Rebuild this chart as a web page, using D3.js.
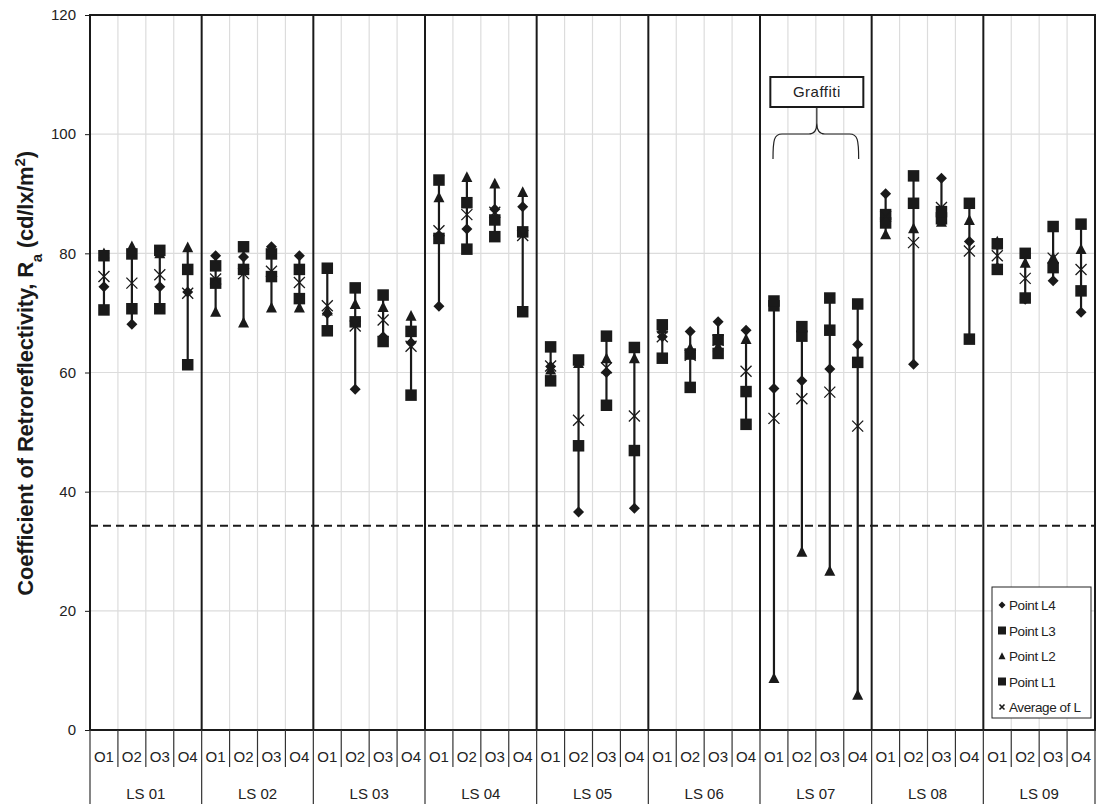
<!DOCTYPE html>
<html>
<head>
<meta charset="utf-8">
<script src="https://cdn.jsdelivr.net/npm/d3@7"></script>
<style>
  html, body { margin: 0; padding: 0; background: #fff; }
  svg { display: block; font-family: "Liberation Sans", Arial, sans-serif; }
</style>
</head>
<body>
<svg id="chart" width="1102" height="804"></svg>
<script>
// Sections and observation positions
const sections = ["LS 01", "LS 02", "LS 03", "LS 04", "LS 05", "LS 06", "LS 07", "LS 08", "LS 09"];
const observations = ["O1", "O2", "O3", "O4"];

// Retroreflectivity readings, listed section by section, O1..O4 in each
const pointL4 = [
  74.4, 68.1, 74.4, 73.5,
  79.6, 79.4, 81.1, 79.6,
  69.9, 57.2, 66.0, 65.0,
  71.1, 84.1, 87.4, 87.8,
  61.0, 36.6, 60.0, 37.2,
  66.0, 66.9, 68.5, 67.1,
  57.3, 58.6, 60.6, 64.7,
  90.0, 61.4, 92.6, 82.0,
  77.6, 72.3, 75.4, 70.1
];
const pointL3 = [
  79.6, 79.9, 80.5, 77.3,
  77.9, 81.1, 79.9, 77.3,
  77.5, 74.2, 73.0, 66.9,
  92.3, 88.5, 85.6, 83.6,
  64.3, 62.1, 66.1, 64.2,
  68.0, 63.1, 65.5, 56.8,
  72.0, 67.7, 72.5, 71.5,
  85.1, 93.0, 87.0, 88.4,
  81.6, 80.0, 84.5, 84.9
];
const pointL2 = [
  80.0, 81.2, 80.0, 81.0,
  70.2, 68.4, 70.9, 70.9,
  70.4, 71.5, 71.0, 69.5,
  89.4, 92.8, 91.7, 90.3,
  60.5, 61.6, 62.4, 62.4,
  67.4, 64.1, 64.4, 65.6,
  8.7, 29.9, 26.7, 5.9,
  83.2, 84.2, 85.3, 85.6,
  82.0, 78.4, 79.3, 80.7
];
const pointL1 = [
  70.5, 70.7, 70.7, 61.3,
  75.0, 77.3, 76.1, 72.4,
  67.0, 68.5, 65.2, 56.2,
  82.5, 80.7, 82.8, 70.2,
  58.6, 47.7, 54.5, 46.9,
  62.4, 57.5, 63.2, 51.3,
  71.2, 66.1, 67.1, 61.7,
  86.5, 88.4, 85.8, 65.6,
  77.3, 72.5, 77.6, 73.7
];
const averageL = [
  76.1, 75.0, 76.4, 73.3,
  75.7, 76.6, 77.0, 75.1,
  71.2, 67.8, 68.8, 64.4,
  83.8, 86.5, 86.9, 83.0,
  61.1, 52.0, 60.8, 52.7,
  66.0, 62.9, 65.4, 60.2,
  52.3, 55.6, 56.7, 51.0,
  86.2, 81.8, 87.7, 80.4,
  79.6, 75.8, 79.2, 77.3
];

const yTicks = [0, 20, 40, 60, 80, 100, 120];
const minimumLevel = 34.3;
const annotationText = "Graffiti";
const annotatedSection = "LS 07";

const legendItems = [
  { label: "Point L4", shape: "diamond" },
  { label: "Point L3", shape: "square" },
  { label: "Point L2", shape: "triangle" },
  { label: "Point L1", shape: "square" },
  { label: "Average of L", shape: "cross" }
];

// ---- layout ----
const plot = { left: 90, right: 1095, top: 15, bottom: 730 };
const ink = "#1a1a1a";
const gridColor = "#dcdcdc";

const svg = d3.select("#chart");

const xSection = d3.scaleBand().domain(sections).range([plot.left, plot.right]).padding(0);
const xObs = d3.scaleBand().domain(observations).range([0, xSection.bandwidth()]).padding(0);
const y = d3.scaleLinear().domain([0, 120]).range([plot.bottom, plot.top]);

// flatten into per-column records
const records = [];
sections.forEach((s, si) => {
  observations.forEach((o, oi) => {
    const k = si * 4 + oi;
    records.push({
      section: s, obs: o,
      cx: xSection(s) + xObs(o) + xObs.bandwidth() / 2,
      L4: pointL4[k], L3: pointL3[k], L2: pointL2[k], L1: pointL1[k], avg: averageL[k]
    });
  });
});

// ---- horizontal gridlines ----
svg.append("g").selectAll("line")
  .data(yTicks.filter(t => t > 0 && t < 120))
  .join("line")
  .attr("x1", plot.left).attr("x2", plot.right)
  .attr("y1", d => y(d)).attr("y2", d => y(d))
  .attr("stroke", gridColor).attr("stroke-width", 1.2);

// ---- vertical gridlines between observations ----
const innerBounds = [];
sections.forEach(s => observations.slice(1).forEach(o => innerBounds.push(xSection(s) + xObs(o))));
svg.append("g").selectAll("line")
  .data(innerBounds)
  .join("line")
  .attr("x1", d => d).attr("x2", d => d)
  .attr("y1", plot.top).attr("y2", plot.bottom)
  .attr("stroke", gridColor).attr("stroke-width", 1.2);

// ---- section dividers ----
svg.append("g").selectAll("line")
  .data(sections.slice(1))
  .join("line")
  .attr("x1", d => xSection(d)).attr("x2", d => xSection(d))
  .attr("y1", plot.top).attr("y2", plot.bottom)
  .attr("stroke", ink).attr("stroke-width", 2);

// ---- minimum level dashed line ----
svg.append("line")
  .attr("x1", plot.left).attr("x2", plot.right)
  .attr("y1", y(minimumLevel)).attr("y2", y(minimumLevel))
  .attr("stroke", ink).attr("stroke-width", 2)
  .attr("stroke-dasharray", "8,5");

// ---- y axis ----
const yAxis = d3.axisLeft(y).tickValues(yTicks).tickSize(5).tickPadding(9);
const yAxisG = svg.append("g").attr("transform", `translate(${plot.left},0)`).call(yAxis);
yAxisG.select(".domain").remove();
yAxisG.selectAll(".tick line").attr("stroke", ink);
yAxisG.selectAll(".tick text")
  .attr("fill", "#222").style("font-size", "15px")
  .style("font-family", "'Liberation Sans', Arial, sans-serif");

// ---- plot frame ----
svg.append("rect")
  .attr("x", plot.left).attr("y", plot.top)
  .attr("width", plot.right - plot.left).attr("height", plot.bottom - plot.top)
  .attr("fill", "none").attr("stroke", ink).attr("stroke-width", 2);

// ---- category axis (two levels) ----
const catG = svg.append("g");
// observation separators
const obsSeps = [];
sections.forEach(s => observations.slice(1).forEach(o => obsSeps.push(xSection(s) + xObs(o))));
catG.selectAll("line.obs")
  .data(obsSeps)
  .join("line").attr("class", "obs")
  .attr("x1", d => d).attr("x2", d => d)
  .attr("y1", plot.bottom).attr("y2", plot.bottom + 37)
  .attr("stroke", "#333").attr("stroke-width", 1.2);
// section separators
catG.selectAll("line.sec")
  .data(sections.map(s => xSection(s)).concat([plot.right]))
  .join("line").attr("class", "sec")
  .attr("x1", d => d).attr("x2", d => d)
  .attr("y1", plot.bottom).attr("y2", 804)
  .attr("stroke", "#333").attr("stroke-width", 1.2);
catG.selectAll("text.obs")
  .data(records)
  .join("text").attr("class", "obs")
  .attr("x", d => d.cx).attr("y", plot.bottom + 32)
  .attr("text-anchor", "middle")
  .attr("fill", "#222").style("font-size", "15px")
  .text(d => d.obs);
catG.selectAll("text.sec")
  .data(sections)
  .join("text").attr("class", "sec")
  .attr("x", d => xSection(d) + xSection.bandwidth() / 2).attr("y", plot.bottom + 69)
  .attr("text-anchor", "middle")
  .attr("fill", "#222").style("font-size", "15px")
  .text(d => d);

// ---- y title ----
const title = svg.append("text")
  .attr("transform", `translate(33,${(plot.top + plot.bottom) / 2 + 1}) rotate(-90)`)
  .attr("text-anchor", "middle")
  .attr("fill", ink)
  .style("font-size", "22px").style("font-weight", "bold").style("letter-spacing", "-0.2px");
title.append("tspan").text("Coefficient of Retroreflectivity, R");
title.append("tspan").attr("baseline-shift", "sub").style("font-size", "15px").text("a");
title.append("tspan").text(" (cd/lx/m");
title.append("tspan").attr("baseline-shift", "super").style("font-size", "15px").text("2");
title.append("tspan").text(")");

// ---- symbols ----
function shapePath(shape, s) {
  const h = s / 2;
  if (shape === "diamond") return `M0,${-h}L${h},0L0,${h}L${-h},0Z`;
  if (shape === "square") return `M${-h},${-h}H${h}V${h}H${-h}Z`;
  if (shape === "triangle") return `M0,${-h * 1.05}L${h},${h * 0.9}L${-h},${h * 0.9}Z`;
  return `M${-h},${-h}L${h},${h}M${h},${-h}L${-h},${h}`;
}

// range bars from lowest to highest reading
svg.append("g").selectAll("line")
  .data(records)
  .join("line")
  .attr("x1", d => d.cx).attr("x2", d => d.cx)
  .attr("y1", d => y(Math.min(d.L4, d.L3, d.L2, d.L1, d.avg)))
  .attr("y2", d => y(Math.max(d.L4, d.L3, d.L2, d.L1, d.avg)))
  .attr("stroke", ink).attr("stroke-width", 2.2);

const seriesDraw = [
  { key: "L2", shape: "triangle", size: 11 },
  { key: "L4", shape: "diamond", size: 11 },
  { key: "L1", shape: "square", size: 11.5 },
  { key: "L3", shape: "square", size: 11.5 }
];
seriesDraw.forEach(sd => {
  svg.append("g").selectAll("path")
    .data(records)
    .join("path")
    .attr("transform", d => `translate(${d.cx},${y(d[sd.key])})`)
    .attr("d", shapePath(sd.shape, sd.size))
    .attr("fill", ink);
});
svg.append("g").selectAll("path")
  .data(records)
  .join("path")
  .attr("transform", d => `translate(${d.cx},${y(d.avg)})`)
  .attr("d", shapePath("cross", 11))
  .attr("fill", "none").attr("stroke", ink).attr("stroke-width", 1.3);

// ---- annotation ----
const secX0 = xSection(annotatedSection);
const cxA = secX0 + xSection.bandwidth() / 2 + 1;
const boxW = 93, boxH = 30, boxTop = 77;
const ann = svg.append("g");
ann.append("rect")
  .attr("x", cxA - boxW / 2).attr("y", boxTop)
  .attr("width", boxW).attr("height", boxH)
  .attr("fill", "#fff").attr("stroke", ink).attr("stroke-width", 2);
ann.append("text")
  .attr("x", cxA).attr("y", boxTop + boxH / 2 + 5)
  .attr("text-anchor", "middle").attr("fill", "#222")
  .style("font-size", "15px").style("letter-spacing", "0.5px")
  .text(annotationText);
const bl = secX0 + 13, br = secX0 + xSection.bandwidth() - 13;
const by = 134, stemBottom = 123, armEnd = 159;
ann.append("path")
  .attr("d",
    `M${bl},${armEnd} C${bl},${by + 6} ${bl + 1},${by} ${bl + 9},${by} ` +
    `L${cxA - 8},${by} C${cxA - 2},${by} ${cxA},${by - 4} ${cxA},${stemBottom} ` +
    `L${cxA},${boxTop + boxH} M${cxA},${stemBottom} ` +
    `C${cxA},${by - 4} ${cxA + 2},${by} ${cxA + 8},${by} ` +
    `L${br - 9},${by} C${br - 1},${by} ${br},${by + 6} ${br},${armEnd}`)
  .attr("fill", "none").attr("stroke", "#222").attr("stroke-width", 1.2);

// ---- legend ----
const lg = svg.append("g");
const lgX = 992, lgY = 587, lgW = 99, lgH = 131;
lg.append("rect")
  .attr("x", lgX).attr("y", lgY).attr("width", lgW).attr("height", lgH)
  .attr("fill", "#fff").attr("stroke", "#222").attr("stroke-width", 1);
const legendSizes = { diamond: 7, square: 8, triangle: 7, cross: 5 };
legendItems.forEach((it, i) => {
  const yy = lgY + 18 + i * 25.5;
  const mark = lg.append("path")
    .attr("transform", `translate(${lgX + 10},${yy})`)
    .attr("d", shapePath(it.shape, legendSizes[it.shape]));
  if (it.shape === "cross") mark.attr("fill", "none").attr("stroke", ink).attr("stroke-width", 1.6);
  else mark.attr("fill", ink);
  lg.append("text")
    .attr("x", lgX + 17).attr("y", yy + 5)
    .attr("fill", "#222").style("font-size", "13.5px").style("letter-spacing", "-0.4px")
    .text(it.label);
});
</script>
</body>
</html>
